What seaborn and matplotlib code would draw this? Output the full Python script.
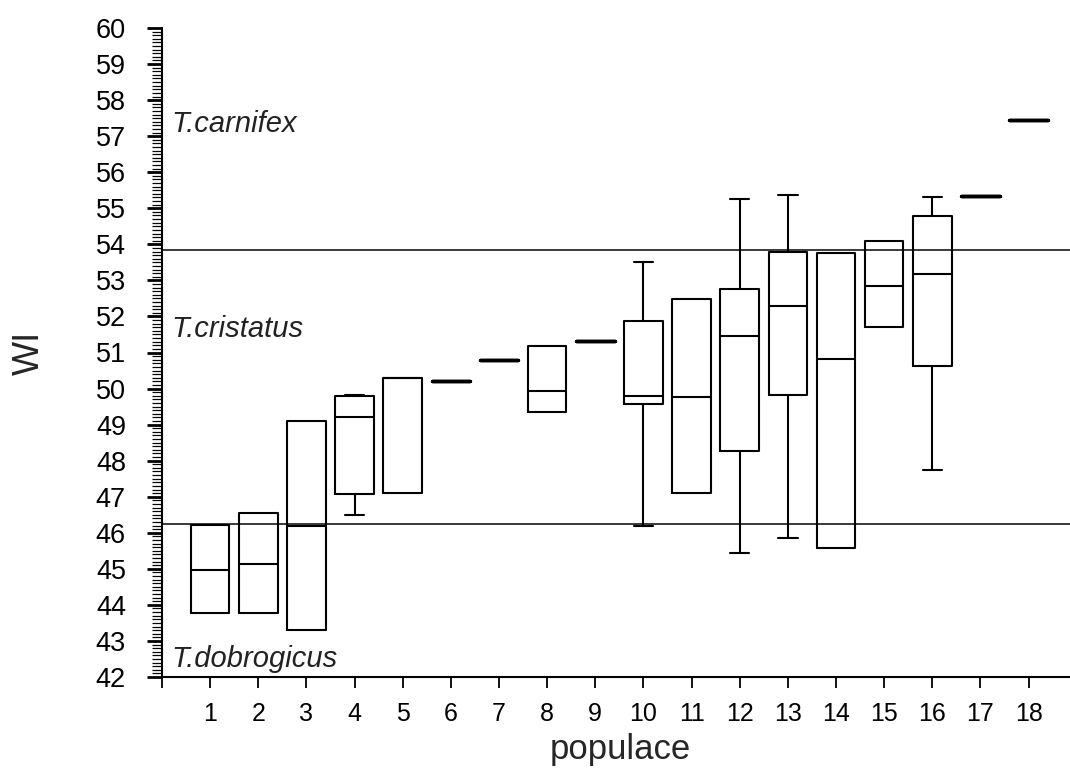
import numpy as np
import pandas as pd
import matplotlib
matplotlib.use("Agg")
import matplotlib.pyplot as plt
import seaborn as sns
from matplotlib.ticker import MultipleLocator
from matplotlib import font_manager

# ---- data ----
populations = [str(i) for i in range(1, 19)]
whisker_low = [43.77, 43.77, 43.30, 46.48, 47.10, 50.22, 50.79, 49.36, 51.32,
               46.19, 47.11, 45.44, 45.85, 45.59, 51.70, 47.74, 55.35, 57.45]
q1 = [43.77, 43.77, 43.30, 47.07, 47.10, 50.22, 50.79, 49.36, 51.32,
      49.57, 47.11, 48.27, 49.83, 45.59, 51.70, 50.62, 55.35, 57.45]
median = [44.96, 45.13, 46.19, 49.20, 50.28, 50.22, 50.79, 49.94, 51.32,
          49.79, 49.77, 51.45, 52.28, 50.82, 52.85, 53.18, 55.35, 57.45]
q3 = [46.21, 46.54, 49.09, 49.79, 50.28, 50.22, 50.79, 51.18, 51.32,
      51.87, 52.48, 52.75, 53.80, 53.75, 54.10, 54.78, 55.35, 57.45]
whisker_high = [46.21, 46.54, 49.09, 49.82, 50.28, 50.22, 50.79, 51.18, 51.32,
                53.52, 52.48, 55.26, 55.37, 53.75, 54.10, 55.31, 55.35, 57.45]
thresholds = [46.24, 53.84]
species_labels = ["T.carnifex", "T.cristatus", "T.dobrogicus"]
species_y = [57.11, 51.43, 42.29]   # text baselines
yticks = list(range(42, 61))

# five-number summaries -> long table (5 values reproduce the quartiles exactly)
rows = []
for p, a, b, c, d, e in zip(populations, whisker_low, q1, median, q3, whisker_high):
    has_whisk = (a < b) or (e > d)
    single = (a == e)
    for v in (a, b, c, d, e):
        rows.append({"populace": p, "WI": v, "whisk": has_whisk, "single": single})
df = pd.DataFrame(rows)

sns.set_style("ticks")
plt.rcParams["font.family"] = ["Liberation Sans", "DejaVu Sans"]

installed = {f.name for f in font_manager.fontManager.ttflist}
narrow = "Liberation Sans Narrow" if "Liberation Sans Narrow" in installed else "Liberation Sans"

fig = plt.figure(figsize=(10.70, 7.69), dpi=100)
ax = fig.add_axes([162 / 1070, 1 - 677 / 769, (1070 - 162) / 1070, (677 - 28) / 769])

common = dict(x="populace", y="WI", order=populations, whis=(0, 100), width=0.8,
              fill=False, color="black", showfliers=False, ax=ax)
sns.boxplot(data=df[df["whisk"]], showcaps=True, linewidth=1.5, **common)
sns.boxplot(data=df[~df["whisk"] & ~df["single"]], showcaps=False, linewidth=1.5, **common)
sns.boxplot(data=df[df["single"]], showcaps=False, linewidth=2.4, **common)

for t in thresholds:
    ax.axhline(t, color="#3a3a3a", lw=1.4, zorder=0)

for lab, yy in zip(species_labels, species_y):
    ax.text(-0.8, yy, lab, fontsize=21, style="italic", color="#222222",
            ha="left", va="baseline")

ax.set_xlim(-1, 17.86)
ax.set_ylim(42, 60)
ax.set_xticks(range(-1, 18))
ax.set_xticklabels([""] + populations, fontsize=18, family=[narrow, "DejaVu Sans"])
ax.set_yticks(yticks)
ax.set_yticklabels([str(v) for v in yticks], fontsize=19.5)
ax.yaxis.set_minor_locator(MultipleLocator(0.1))

ax.tick_params(axis="y", which="major", direction="out", length=11, width=2.0, pad=15, colors="black")
ax.tick_params(axis="y", which="minor", direction="out", length=7, width=0.9, colors="black")
ax.tick_params(axis="x", which="major", direction="out", length=8, width=1.3, pad=10, colors="black")

for s in ["top", "right"]:
    ax.spines[s].set_visible(False)
for s in ["left", "bottom"]:
    ax.spines[s].set_color("black")
    ax.spines[s].set_linewidth(1.5)

ax.set_xlabel("populace", fontsize=25, va="baseline")
ax.xaxis.set_label_coords((620 - 162) / 908, (677 - 759) / 649)
ax.set_ylabel("WI", fontsize=26, va="center")
ax.yaxis.set_label_coords((29 - 162) / 908, (677 - 353) / 649)

fig.savefig("out.png", dpi=100)
